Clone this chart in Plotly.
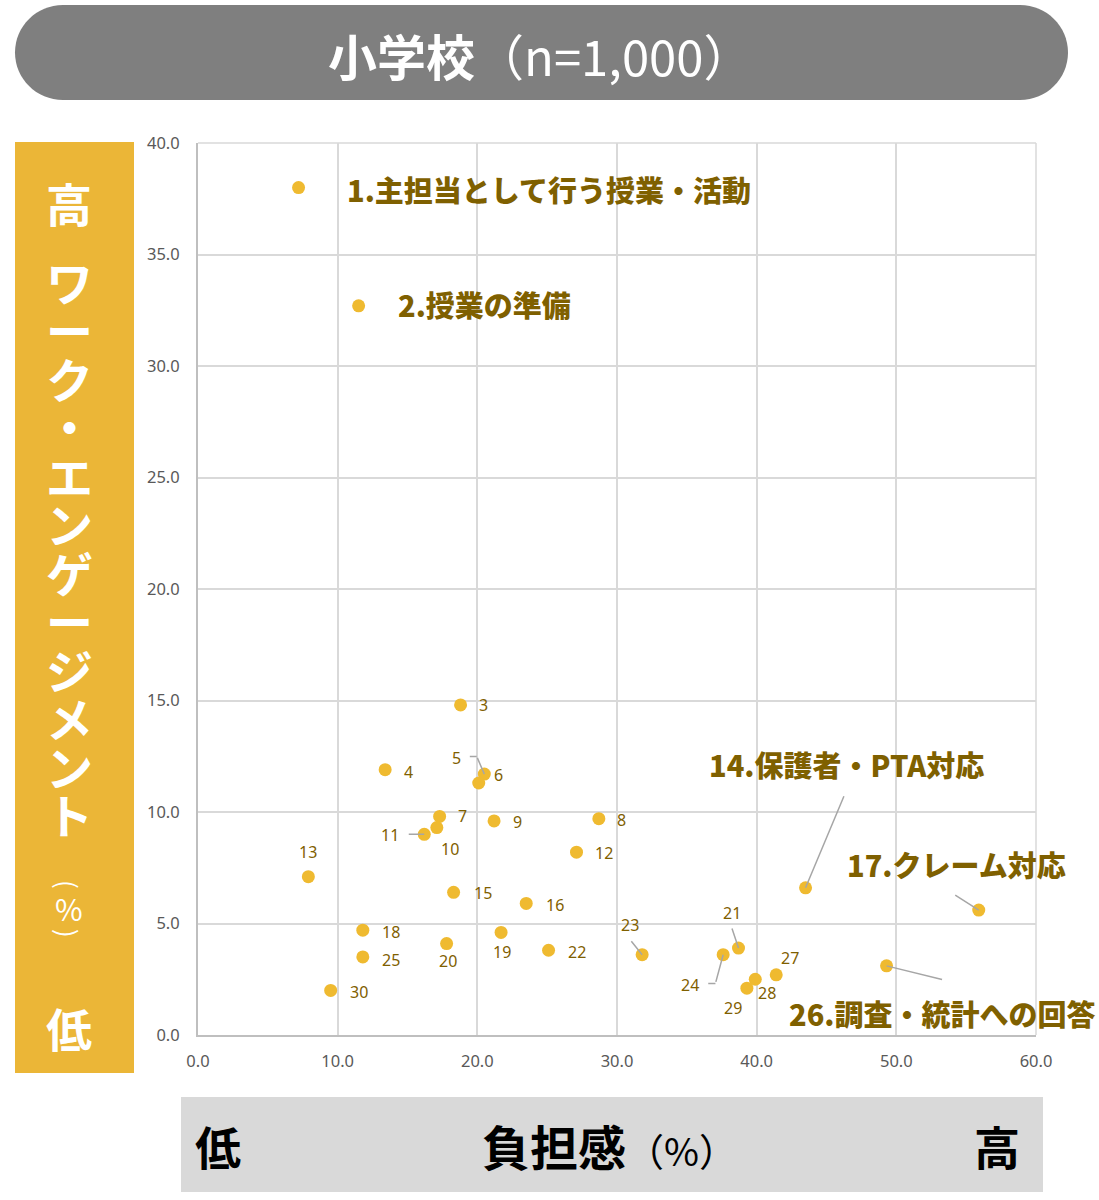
import plotly.graph_objects as go

# ---------------- data ----------------
item_no = list(range(1, 31))
burden = [7.2, 11.5, 18.8, 13.4, 20.5, 20.1, 17.3, 28.7, 21.2, 17.1,
          16.2, 27.1, 7.9, 43.5, 18.3, 23.5, 55.9, 11.8, 21.7, 17.8,
          38.7, 25.1, 31.8, 37.6, 11.8, 49.3, 41.4, 39.9, 39.3, 9.5]
engagement = [38.0, 32.7, 14.8, 11.9, 11.7, 11.3, 9.8, 9.7, 9.6, 9.3,
              9.0, 8.2, 7.1, 6.6, 6.4, 5.9, 5.6, 4.7, 4.6, 4.1,
              3.9, 3.8, 3.6, 3.6, 3.5, 3.1, 2.7, 2.5, 2.1, 2.0]
highlight_names = {1: "主担当として行う授業・活動", 2: "授業の準備",
                   14: "保護者・PTA対応", 17: "クレーム対応",
                   26: "調査・統計への回答"}
x_ticks = [0, 10, 20, 30, 40, 50, 60]
y_ticks = [0, 5, 10, 15, 20, 25, 30, 35, 40]
title_main = "小学校"
title_sub = "（n=1,000）"
y_title_high = "高"
y_title_chars = list("ワーク・エンゲージメント")
y_title_low = "低"
x_title_low = "低"
x_title_main = "負担感"
x_title_unit = "（%）"
x_title_high = "高"

# ---------------- styling / placement ----------------
W, H = 1099, 1200
L, R, T, B = 198, 1036, 143, 1035
CJK = "Noto Sans CJK JP"
OLIVE = "#7F6000"
GOLD = "#EFBA30"
BAR_GOLD = "#EBB637"
LEADER = "#A6A6A6"
GRID = "#D9D9D9"


def pxx(x):
    return (x - L) / (R - L)


def pxy(y):
    return (B - y) / (B - T)


# label offsets in screen pixels (dx right, dy down)
small_offsets = {3: (23, 0), 4: (23, 2), 5: (-28, -16), 6: (20, -8), 7: (23, 0),
                 8: (23, 1), 9: (23, 1), 10: (13, 21), 11: (-34, 1), 12: (27, 1),
                 13: (0, -25), 15: (29, 1), 16: (29, 2), 18: (28, 2), 19: (1, 20),
                 20: (1, 17), 22: (28, 2), 25: (28, 3), 30: (28, 2), 23: (-12, -30),
                 21: (-7, -35), 24: (-33, 30), 27: (14, -17), 28: (12, 14), 29: (-14, 20)}
big_offsets = {1: (46, 1, "left"), 2: (37, -2, "left"), 14: (41, -124, "center"),
               17: (-22, -46, "center"), 26: (56, 47, "center")}
# leader lines: (item, head shift dx, head shift dy, tail ax, tail ay)
leaders = [(5, 0, 0, -7.6, -17.7), (5, -7.6, -17.7, -8.4, 0),
           (11, 0, 0, -17, 0), (23, 0, 0, -12, -15), (14, 0, 0, 39, -93),
           (17, 0, 0, -25, -16), (21, 0, 0, -7, -21),
           (24, 0, 0, -7.7, 28.7), (24, -7.7, 28.7, -8.7, 0),
           (26, 0, 0, 57, 14)]

fig = go.Figure()
fig.add_trace(go.Scatter(
    x=burden, y=engagement, mode="markers",
    marker=dict(color=GOLD, size=13, line=dict(width=0)),
    hoverinfo="skip", showlegend=False))

annotations = []
idx = {n: i for i, n in enumerate(item_no)}

for n, (dx, dy) in small_offsets.items():
    i = idx[n]
    annotations.append(dict(x=burden[i], y=engagement[i], xref="x", yref="y",
                            text=str(n), showarrow=False, xshift=dx, yshift=-dy,
                            xanchor="center", yanchor="middle",
                            font=dict(family="Noto Sans", size=16, color=OLIVE)))

for n, (dx, dy, anc) in big_offsets.items():
    i = idx[n]
    annotations.append(dict(x=burden[i], y=engagement[i], xref="x", yref="y",
                            text=f"{n}.{highlight_names[n]}", showarrow=False,
                            xshift=dx, yshift=-dy, xanchor=anc, yanchor="middle",
                            font=dict(family=CJK, size=29, color=OLIVE, weight=900)))

for n, sdx, sdy, ax, ay in leaders:
    i = idx[n]
    annotations.append(dict(x=burden[i], y=engagement[i], xref="x", yref="y",
                            text="", showarrow=True, arrowhead=0, arrowwidth=1.5,
                            arrowcolor=LEADER, ax=ax, ay=ay, axref="pixel", ayref="pixel",
                            xshift=sdx, yshift=-sdy, standoff=0))

# title banner (pill)
x0, x1, y0, y1, rx = 15, 1068, 5, 100, 48
ry = (y1 - y0) / 2
cy = (y0 + y1) / 2
k = 0.5523
pts = [
    ("M", [(x0 + rx, y0)]),
    ("L", [(x1 - rx, y0)]),
    ("C", [(x1 - rx + k * rx, y0), (x1, cy - k * ry), (x1, cy)]),
    ("C", [(x1, cy + k * ry), (x1 - rx + k * rx, y1), (x1 - rx, y1)]),
    ("L", [(x0 + rx, y1)]),
    ("C", [(x0 + rx - k * rx, y1), (x0, cy + k * ry), (x0, cy)]),
    ("C", [(x0, cy - k * ry), (x0 + rx - k * rx, y0), (x0 + rx, y0)]),
]
path = ""
for cmd, ps in pts:
    path += cmd + " " + " ".join(f"{pxx(a):.5f},{pxy(b):.5f}" for a, b in ps) + " "
path += "Z"

shapes = [
    dict(type="path", xref="paper", yref="paper", path=path,
         fillcolor="#7F7F7F", line=dict(width=0)),
    dict(type="rect", xref="paper", yref="paper", x0=pxx(15), x1=pxx(134),
         y0=pxy(1073), y1=pxy(142), fillcolor=BAR_GOLD, line=dict(width=0)),
    dict(type="rect", xref="paper", yref="paper", x0=pxx(181), x1=pxx(1043),
         y0=pxy(1192), y1=pxy(1097), fillcolor="#D9D9D9", line=dict(width=0)),
    dict(type="line", xref="paper", yref="paper", x0=0, x1=1, y0=1, y1=1,
         line=dict(color=GRID, width=1.5), layer="below"),
    dict(type="line", xref="paper", yref="paper", x0=1, x1=1, y0=0, y1=1,
         line=dict(color=GRID, width=1.5), layer="below"),
]

annotations.append(dict(x=pxx(540), y=pxy(54), xref="paper", yref="paper",
                        text=f"<b>{title_main}</b>{title_sub}", showarrow=False,
                        xanchor="center", yanchor="middle",
                        font=dict(family=CJK, size=49, color="white")))

# vertical y-axis title
VX = 69


def vtext(t, y, size=46, bold=True, angle=0):
    annotations.append(dict(x=pxx(VX), y=pxy(y), xref="paper", yref="paper",
                            text=t, showarrow=False, xanchor="center", yanchor="middle",
                            textangle=angle,
                            font=dict(family=CJK, size=size, color="white",
                                      weight="bold" if bold else "normal")))


vtext(y_title_high, 202)
col = "<br>".join(f"<span style='font-size:47px'>{c}</span>" for c in y_title_chars)
vtext(col, 547, size=37.3)
vtext("(", 884, size=26, bold=False, angle=90)
vtext("%", 908, size=30, bold=False)
vtext(")", 933, size=26, bold=False, angle=90)
vtext(y_title_low, 1027)


# bottom x-axis title
def btext(t, x, anchor, size=46, bold=True):
    annotations.append(dict(x=pxx(x), y=pxy(1145), xref="paper", yref="paper",
                            text=t, showarrow=False, xanchor=anchor, yanchor="middle",
                            font=dict(family=CJK, size=size, color="black",
                                      weight="bold" if bold else "normal")))


btext(x_title_low, 218, "center")
btext(f"<b>{x_title_main}</b><span style='font-size:38px'>{x_title_unit}</span>",
      480, "left", size=48, bold=False)
btext(x_title_high, 997, "center")

fig.update_layout(
    width=W, height=H,
    margin=dict(l=L, r=W - R, t=T, b=H - B, pad=0),
    paper_bgcolor="white", plot_bgcolor="white",
    shapes=shapes, annotations=annotations,
    xaxis=dict(range=[0, 60], tickvals=x_ticks, ticktext=[f"{v:.1f}" for v in x_ticks],
               showgrid=True, gridcolor=GRID, gridwidth=1.5,
               showline=True, linecolor="#BFBFBF", linewidth=2, zeroline=False,
               ticks="", ticklabelstandoff=10,
               tickfont=dict(family="Noto Sans", size=16.5, color="#595959"), fixedrange=True),
    yaxis=dict(range=[0, 40], tickvals=y_ticks, ticktext=[f"{v:.1f}" for v in y_ticks],
               showgrid=True, gridcolor=GRID, gridwidth=1.5,
               showline=True, linecolor="#BFBFBF", linewidth=2, zeroline=False,
               ticks="", ticklabelstandoff=13,
               tickfont=dict(family="Noto Sans", size=16.5, color="#595959"), fixedrange=True),
)

fig.write_html("out.html")
